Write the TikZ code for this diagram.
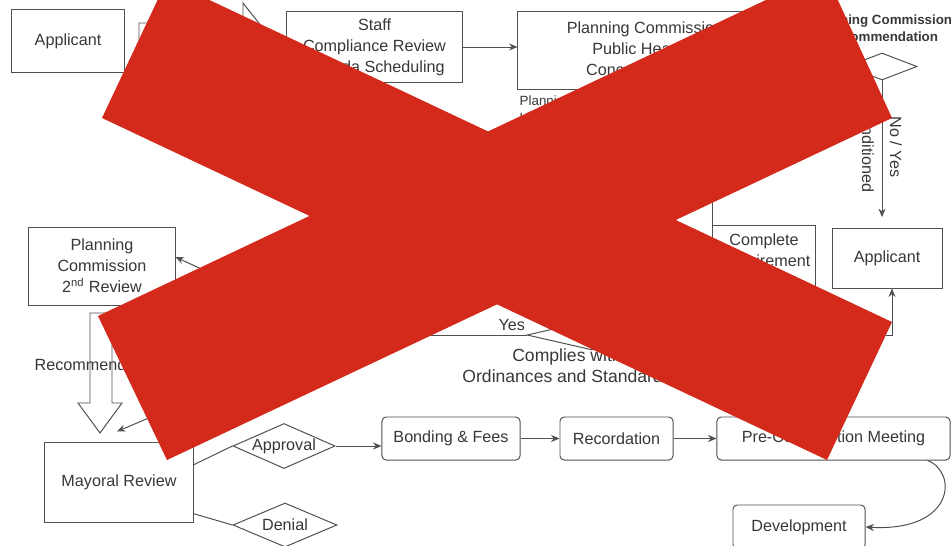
\documentclass[tikz,border=0pt]{standalone}
\usepackage{fontspec}
\setmainfont{Liberation Sans}
\usetikzlibrary{positioning,arrows.meta,shapes.geometric,calc}
\definecolor{planLinea}{HTML}{505050}
\definecolor{planTexto}{HTML}{383838}
\definecolor{planRojo}{HTML}{D42A1C}
\tikzset{
  stepBox/.style={rectangle, draw=planLinea, line width=0.7pt, fill=white,
    align=center, text=planTexto, font=\fontsize{11.5}{15}\selectfont, inner sep=0pt},
  roundBox/.style={stepBox, rounded corners=3pt},
  decision/.style={diamond, aspect=2.3, draw=planLinea, line width=0.7pt, fill=white,
    text=planTexto, font=\fontsize{11.5}{15}\selectfont, inner sep=0pt},
  flowArrow/.style={-{Stealth[length=6pt,width=5pt]}, line width=0.7pt, planLinea},
  flowLine/.style={line width=0.7pt, planLinea},
  blockArrow/.style={draw=planLinea, line width=0.7pt, fill=white},
  noteText/.style={text=planTexto, font=\fontsize{11.5}{15}\selectfont, align=center, inner sep=1pt},
  smallNote/.style={noteText, font=\fontsize{9.5}{12}\selectfont},
  crossBar/.style={fill=planRojo, draw=none},
}
\begin{document}
\begin{tikzpicture}[x=0.025cm, y=-0.025cm]
    \useasboundingbox (0,0) rectangle (951,545);
    \fill[white] (0,0) rectangle (951,545);

    \node[stepBox, minimum width=2.8cm, minimum height=1.55cm] (appA) at (68,41) {Applicant};
    \node[stepBox, minimum width=4.375cm, minimum height=1.75cm] (staff) at (374.5,47) {Staff\\Compliance Review\\Agenda Scheduling};
    \node[stepBox, minimum width=6.35cm, minimum height=1.925cm] (hearing) at (645,50.5) {Planning Commission\\Public Hearing\\Concept Review};
    \node[smallNote, anchor=north west, align=left] (hearingNote) at (518,94) {Planning Commission\\Hearing};
    \node[smallNote, font=\fontsize{9.5}{12}\selectfont\bfseries] (recLabel) at (882,28) {Planning Commission\\Recommendation};
    \node[decision, minimum width=1.75cm, minimum height=0.675cm] (recDec) at (882,66.5) {};
    \node[stepBox, minimum width=2.75cm, minimum height=1.5cm] (appB) at (887,258) {Applicant};
    \node[stepBox, minimum width=2.575cm, minimum height=2cm, anchor=north west] (complete) at (712,225) {};
    \node[noteText, below=5pt of complete.north] (completeText) {Complete\\Requirement};
    \coordinate (completeIn) at (712,150);

    \node[decision, minimum width=3.25cm, minimum height=0.75cm] (complies) at (592,335) {};
    \node[noteText, font=\fontsize{12.5}{15}\selectfont] (compliesLabel) at (567,366) {Complies with\\Ordinances and Standards};
    \coordinate (yesFork) at (343,335);

    \node[stepBox, minimum width=3.65cm, minimum height=1.95cm] (pc2) at (102,266) {Planning\\Commission\\2\textsuperscript{nd} Review};
    \node[stepBox, minimum width=3.7cm, minimum height=2cm] (mayoral) at (119,482) {Mayoral Review};
    \node[decision, minimum width=2.55cm, minimum height=1.125cm] (approval) at (284,446) {Approval};
    \node[decision, minimum width=2.6cm, minimum height=1.1cm] (denial) at (285,525) {Denial};
    \node[roundBox, minimum width=3.45cm, minimum height=1.075cm] (bonding) at (451,438.5) {Bonding \& Fees};
    \node[roundBox, minimum width=2.825cm, minimum height=1.075cm] (recordation) at (616.5,438.5) {Recordation};
    \node[roundBox, minimum width=5.825cm, minimum height=1.075cm] (precon) at (833.5,438.5) {Pre-Construction Meeting};
    \node[roundBox, minimum width=3.3cm, minimum height=1.1cm] (development) at (799,527) {Development};

    \draw[blockArrow] (139,23) -- (243,23) -- (243,3) -- (273,41) -- (243,79) -- (243,59) -- (139,59) -- cycle;
    \draw[flowArrow] (staff.east |- 0,47) -- (hearing.west |- 0,47);
    \draw[flowArrow, line width=0.5pt, shorten >=0.26cm] (recDec.south) -- (recDec.south |- appB.north);
    \node[noteText, rotate=-90] (noYes) at (896,147) {No / Yes};
    \node[noteText, rotate=-90] (condLabel) at (868,149) {Conditioned};
    \draw[flowLine] (completeIn) -- (complete.north west);

    \draw[flowArrow] (complies.east) -| ($(appB.south)+(5,0)$);
    \draw[flowLine] (complies.west) -- node[noteText, above=2pt, pos=0.08] {Yes} (yesFork);
    \draw[flowArrow] (yesFork) -- (pc2.7);
    \draw[flowArrow] (yesFork) -- ($(mayoral.north)+(-2,-10)$);

    \draw[blockArrow] (90,313) -- (112,313) -- (112,403) -- (122,403) -- (100,433) -- (78,403) -- (90,403) -- cycle;
    \node[noteText, anchor=base west] (recomText) at (33,370) {Recommendation};

    \draw[flowLine] (mayoral.13) -- (approval.west);
    \draw[flowLine] (mayoral.-23) -- (denial.west);
    \draw[flowArrow] (approval.east) -- (approval.east -| bonding.west);
    \draw[flowArrow] (bonding) -- (recordation);
    \draw[flowArrow] (recordation) -- (precon);
    \draw[flowArrow] ($(precon.south east)+(-23,0)$) .. controls (958,472) and (955,532) .. (development.east);

    \fill[crossBar] (167,-20) -- (892,322) -- (827,460) -- (102,118) -- cycle;
    \fill[crossBar] (98,316) -- (825,-28) -- (892,118) -- (167,460) -- cycle;
  \end{tikzpicture}
\end{document}
